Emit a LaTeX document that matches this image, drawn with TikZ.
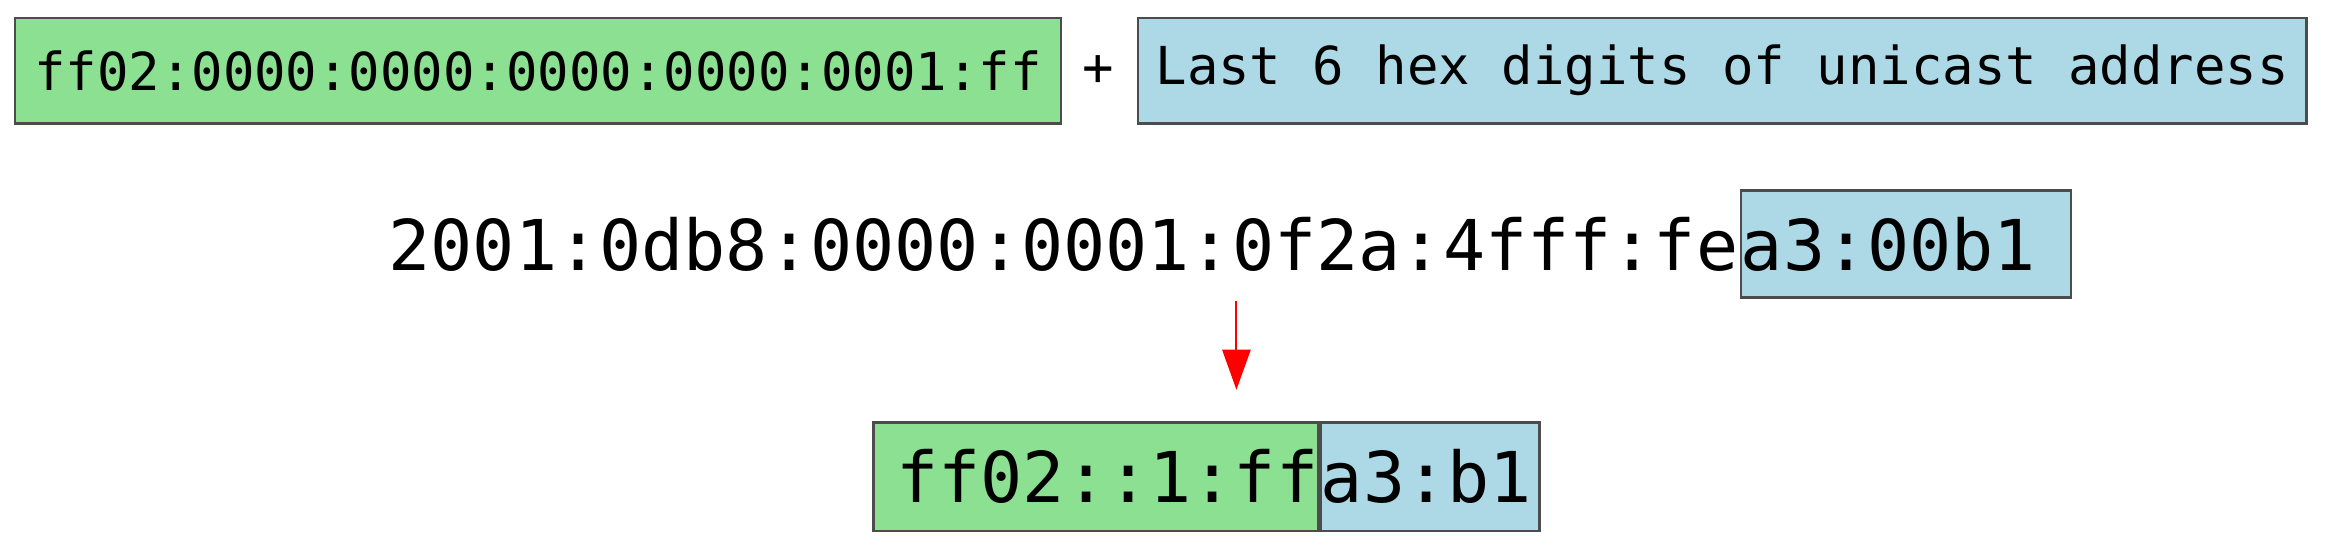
\documentclass[tikz,border=0pt]{standalone}
\usepackage{fontspec}
\setmonofont{DejaVu Sans Mono}
\usetikzlibrary{arrows.meta}
\definecolor{boxgreen}{RGB}{139,224,145}
\definecolor{boxblue}{RGB}{173,216,230}
\begin{document}
\begin{tikzpicture}[
	greenbox/.style={shape=rectangle, draw=black!70, line width=0.5pt, fill=boxgreen},
	bluebox/.style={shape=rectangle, draw=black!70, line width=0.5pt, fill=boxblue},
	smalladdr/.style={font=\ttfamily\fontsize{10}{12}\selectfont},
	bigaddr/.style={font=\ttfamily\fontsize{13.4}{16}\selectfont},
	redarrow/.style={-{Triangle[length=0.27cm, width=0.19cm]}, draw=red, line width=0.4pt}
	]
	\useasboundingbox (0,0) rectangle (15.68,3.76);
	
	\node (z1)[greenbox, smalladdr, minimum width=7.03cm, minimum height=0.71cm] 
	at (3.615,3.285) {ff02:0000:0000:0000:0000:0001:ff};
	
	\node (z2)[smalladdr] 
	at (7.38,3.285) {+};
	
	\node (z3)[bluebox, smalladdr, minimum width=7.85cm, minimum height=0.71cm] 
	at (11.575,3.285) {Last 6 hex digits of unicast address};
	
	\node (z5)[bluebox, bigaddr, text width=2.22cm, inner xsep=0pt, minimum height=0.72cm, align=left] 
	at (12.81,2.12) {a3:00b1};
	
	\node (z4)[bigaddr, anchor=base east, inner xsep=0pt] 
	at (z5.base west) {2001:0db8:0000:0001:0f2a:4fff:fe};
	
	\node (z6)[greenbox, bigaddr, text width=2.99cm, inner xsep=0pt, minimum height=0.73cm, align=right] 
	at (7.365,0.555) {ff02::1:ff};
	
	\node (z7)[bluebox, bigaddr, text width=1.47cm, inner xsep=0pt, minimum height=0.73cm, align=left, anchor=west] 
	at (z6.east) {a3:b1};
	
	\coordinate (z8) at (8.31,1.74);
	\coordinate (z9) at (8.31,1.14);
	
	\path (z8) edge[redarrow] (z9);
\end{tikzpicture}
\end{document}
